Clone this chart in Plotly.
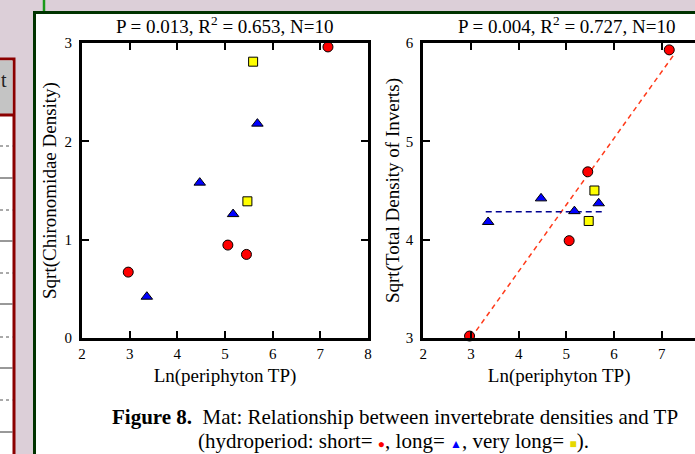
import plotly.graph_objects as go

W, H = 695, 454

# ---- data (shared x = Ln(periphyton TP)) ----
short_x = [2.97, 5.06, 5.45, 7.16]
long_x = [3.36, 4.47, 5.17, 5.68]
vlong_x = [5.59, 5.47]

# left panel: Sqrt(Chironomidae Density)
chiro_short = [0.67, 0.945, 0.85, 2.96]
chiro_long = [0.42, 1.58, 1.26, 2.18]
chiro_vlong = [2.81, 1.39]

# right panel: Sqrt(Total Density of Inverts)
total_short = [3.02, 3.99, 4.69, 5.93]
total_long = [4.18, 4.42, 4.29, 4.37]
total_vlong = [4.50, 4.19]

# regression lines (right panel)
fit_short_x = [3.0, 7.27]
fit_short_y = [3.0, 5.89]
fit_long_x = [3.31, 5.78]
fit_long_y = [4.285, 4.285]

left_title = "P = 0.013, R<sup>2</sup> = 0.653, N=10"
right_title = "P = 0.004, R<sup>2</sup> = 0.727, N=10"
x_title = "Ln(periphyton TP)"
y1_title = "Sqrt(Chironomidae Density)"
y2_title = "Sqrt(Total Density of Inverts)"
x_ticks = [2, 3, 4, 5, 6, 7, 8]
y1_ticks = [0, 1, 2, 3]
y2_ticks = [3, 4, 5, 6]

SERIF = "Liberation Serif, Times New Roman, serif"


def px(x):
    return x / W


def py(y):
    return 1 - y / H


fig = go.Figure()

mk = dict(line=dict(color="black", width=1))
groups = [
    (short_x, chiro_short, total_short, "circle", "#ff0000", 10),
    (long_x, chiro_long, total_long, "triangle-up", "#0000ff", 10),
    (vlong_x, chiro_vlong, total_vlong, "square", "#ffff00", 9),
]

fig.add_trace(go.Scatter(x=fit_short_x, y=fit_short_y, mode="lines",
                         line=dict(color="#ff3a1a", width=1.5, dash="5px,4px"),
                         xaxis="x2", yaxis="y2", showlegend=False, hoverinfo="skip"))
fig.add_trace(go.Scatter(x=fit_long_x, y=fit_long_y, mode="lines",
                         line=dict(color="#000090", width=1.5, dash="6px,4px"),
                         xaxis="x2", yaxis="y2", showlegend=False, hoverinfo="skip"))

for gx, gy1, gy2, sym, col, sz in groups:
    fig.add_trace(go.Scatter(x=gx, y=gy1, mode="markers", cliponaxis=False,
                             marker=dict(symbol=sym, color=col, size=sz, **mk),
                             xaxis="x", yaxis="y", showlegend=False))
    fig.add_trace(go.Scatter(x=gx, y=gy2, mode="markers", cliponaxis=False,
                             marker=dict(symbol=sym, color=col, size=sz, **mk),
                             xaxis="x2", yaxis="y2", showlegend=False))

unit = (368 - 82) / 6.0
right_end = 2 + (W - 423.3) / unit

axis_common = dict(showgrid=False, zeroline=False, showline=True, linecolor="black",
                   linewidth=3, ticks="inside", ticklen=7, tickwidth=1.5,
                   tickcolor="black", automargin=False,
                   tickfont=dict(family=SERIF, size=15, color="black"),
                   title_font=dict(family=SERIF, size=19, color="black"))

ydom = [py(338), py(43)]
fig.update_layout(
    width=W, height=H, autosize=False,
    margin=dict(l=0, r=0, t=0, b=0),
    paper_bgcolor="#dccfd8", plot_bgcolor="white",
    xaxis=dict(domain=[px(82), px(368)], range=[2, 8], tickvals=x_ticks,
               mirror="ticks", anchor="y", title=dict(text=x_title, standoff=8),
               **axis_common),
    yaxis=dict(domain=ydom, range=[0, 3], tickvals=y1_ticks, mirror="ticks",
               anchor="x", ticklabelstandoff=4,
               title=dict(text=y1_title, standoff=3), **axis_common),
    xaxis2=dict(domain=[px(423.3), 1], range=[2, right_end], tickvals=x_ticks,
                mirror="ticks", anchor="y2", title=dict(text=x_title, standoff=8),
                **axis_common),
    yaxis2=dict(domain=ydom, range=[3, 6], tickvals=y2_ticks, mirror=False,
                anchor="x2", ticklabelstandoff=4,
                title=dict(text=y2_title, standoff=2), **axis_common),
)

# ---- background: page behind the figure ----
shapes = []
# table on the left
shapes.append(dict(type="rect", xref="paper", yref="paper", layer="below",
                   x0=px(-5), x1=px(14), y0=py(470), y1=py(59),
                   fillcolor="white", line=dict(color="#8b0000", width=3)))
shapes.append(dict(type="rect", xref="paper", yref="paper", layer="below",
                   x0=px(-5), x1=px(12.5), y0=py(114), y1=py(60.5),
                   fillcolor="#c4c4c4", line=dict(width=0)))
shapes.append(dict(type="line", xref="paper", yref="paper", layer="below",
                   x0=px(-5), x1=px(13), y0=py(115), y1=py(115),
                   line=dict(color="#8b0000", width=3)))
for yy in [146, 210, 273, 337, 400]:
    shapes.append(dict(type="line", xref="paper", yref="paper", layer="below",
                       x0=px(0), x1=px(12.5), y0=py(yy), y1=py(yy),
                       line=dict(color="#555555", width=1, dash="dot")))
for yy in [178, 241, 304, 368, 432]:
    shapes.append(dict(type="line", xref="paper", yref="paper", layer="below",
                       x0=px(0), x1=px(12.5), y0=py(yy), y1=py(yy),
                       line=dict(color="#333333", width=1)))
# green framed white panel
shapes.append(dict(type="rect", xref="paper", yref="paper", layer="below",
                   x0=px(34.5), x1=px(720), y0=py(480), y1=py(12.5),
                   fillcolor="white", line=dict(color="#003300", width=3)))
shapes.append(dict(type="line", xref="paper", yref="paper", layer="below",
                   x0=px(44), x1=px(44), y0=py(0), y1=py(11),
                   line=dict(color="#1a9a1a", width=2.5)))
fig.update_layout(shapes=shapes)

ann = []
ann.append(dict(text="t", x=px(9), y=py(80), xref="paper", yref="paper",
                xanchor="right", yanchor="middle", showarrow=False,
                font=dict(family=SERIF, size=20, color="#222222")))
ann.append(dict(text=left_title, x=px(225), y=py(25), xref="paper", yref="paper",
                xanchor="center", yanchor="middle", showarrow=False,
                font=dict(family=SERIF, size=19, color="black")))
ann.append(dict(text=right_title, x=px(566.5), y=py(25), xref="paper", yref="paper",
                xanchor="center", yanchor="middle", showarrow=False,
                font=dict(family=SERIF, size=19, color="black")))
ann.append(dict(text="<b>Figure 8.</b>  Mat: Relationship between invertebrate densities and TP",
                x=px(395), y=py(417), xref="paper", yref="paper",
                xanchor="center", yanchor="middle", showarrow=False,
                font=dict(family=SERIF, size=21, color="black")))
ann.append(dict(text="(hydroperiod: short= <span style='color:#ff0000;font-size:12px'>●</span>, "
                     "long= <span style='color:#0000ff;font-size:12px'>▲</span>, "
                     "very long= <span style='color:#e6d800;font-size:12px'>■</span>).",
                x=px(393), y=py(441), xref="paper", yref="paper",
                xanchor="center", yanchor="middle", showarrow=False,
                font=dict(family=SERIF, size=21, color="black")))
fig.update_layout(annotations=ann)

fig.write_html("out.html",
               config={"displayModeBar": False},
               post_script="document.body.style.margin='0px';"
                           "document.body.style.overflow='hidden';")
